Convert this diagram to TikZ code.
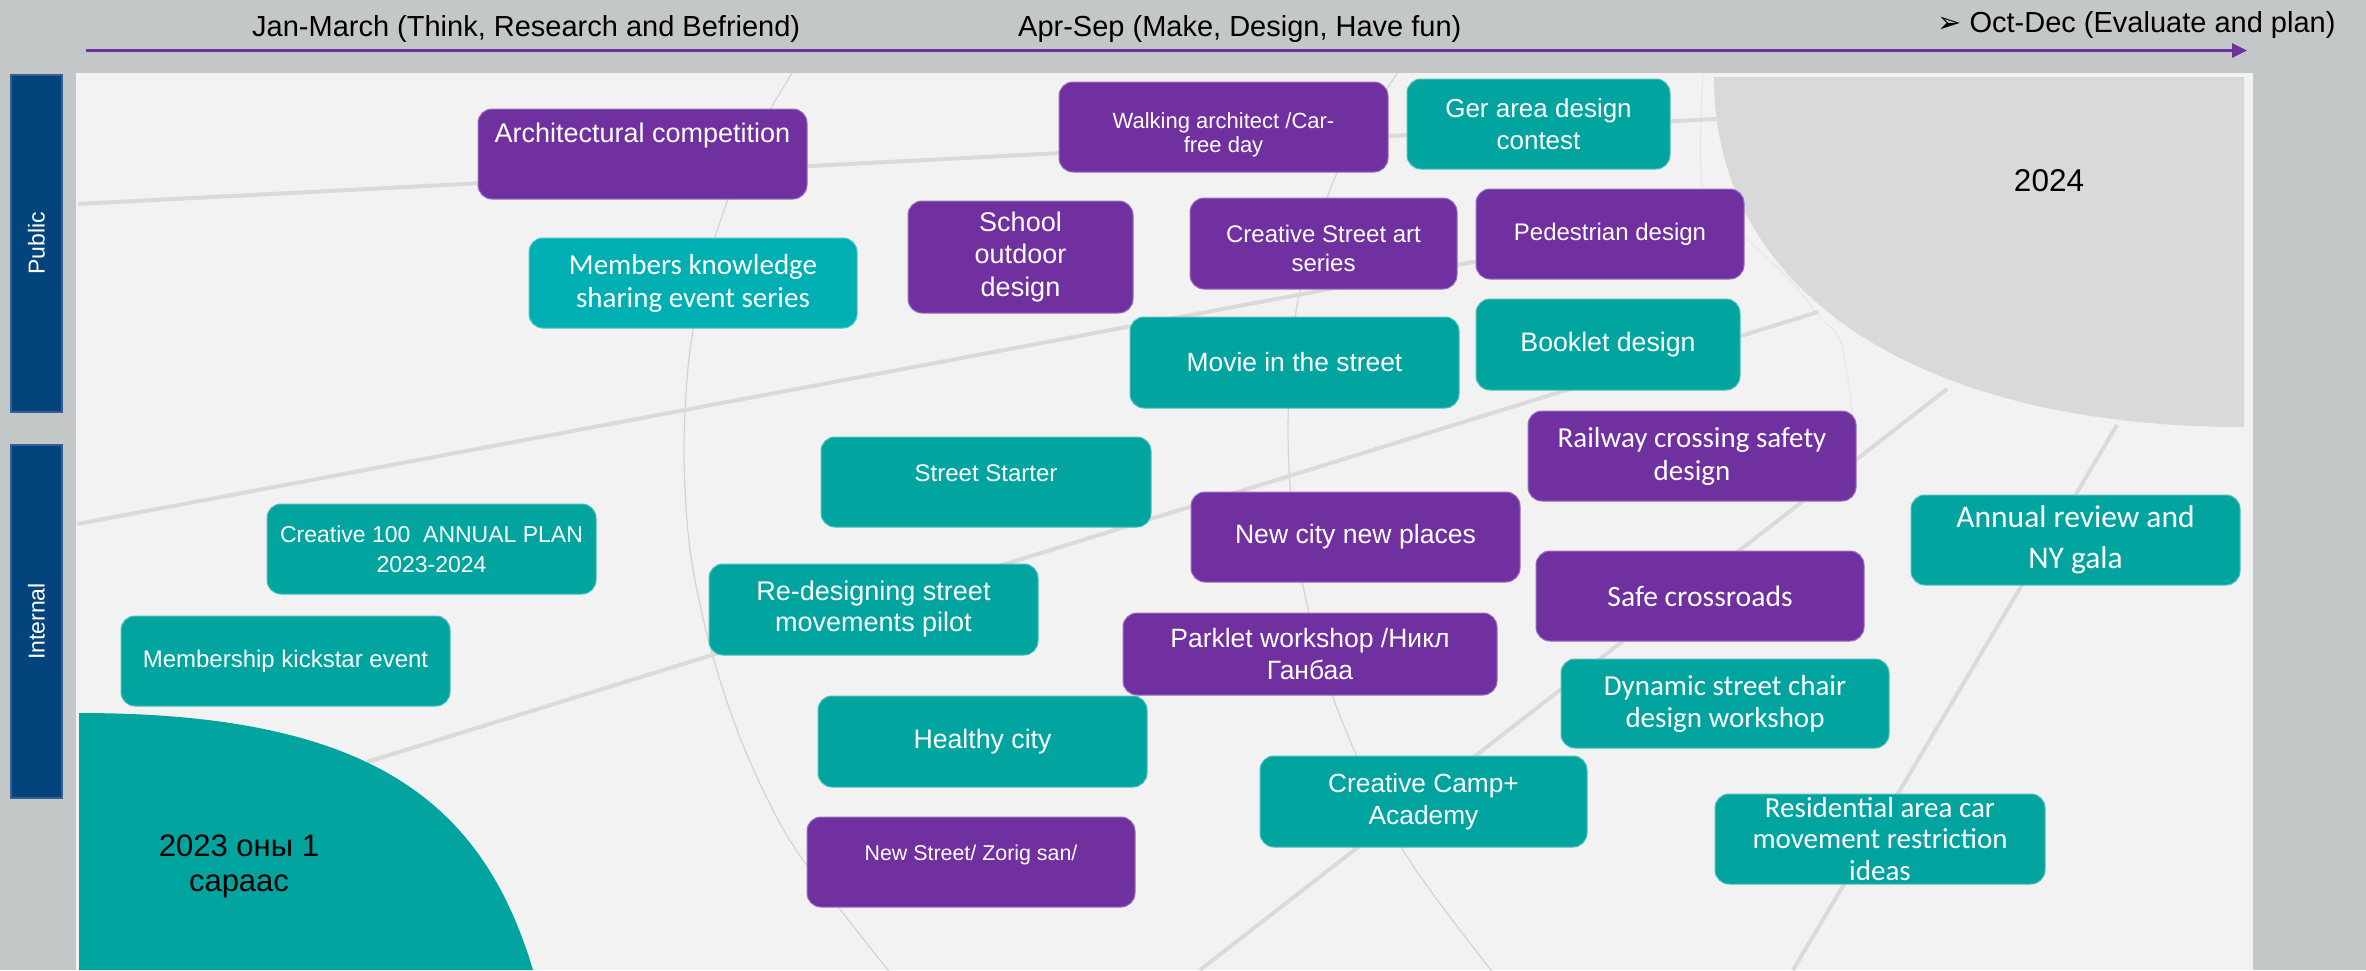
\documentclass[tikz,border=0pt]{standalone}
\usepackage{fontspec}
\setmainfont{Liberation Sans}
\newfontfamily\calfont{Carlito}
\newfontfamily\symfont{DejaVu Sans}
\usetikzlibrary{arrows.meta}

\definecolor{slidegray}{HTML}{C4C7C8}
\definecolor{canvasgray}{HTML}{F2F2F2}
\definecolor{roadgray}{HTML}{DADADA}
\definecolor{ringgray}{HTML}{D3D3D3}
\definecolor{yeargray}{HTML}{D9D9D9}
\definecolor{planpurple}{HTML}{7030A0}
\definecolor{planteal}{HTML}{02A4A0}
\definecolor{planaqua}{HTML}{00AFB1}
\definecolor{laneblue}{HTML}{03447C}
\definecolor{laneedge}{HTML}{3A5D96}

\tikzset{
  plan/.style={rounded corners=14pt, inner sep=0pt, align=center, text=white,
    minimum width=329pt, minimum height=90pt, line width=1pt},
  pplan/.style={plan, fill=planpurple, draw=planpurple!70!white},
  tplan/.style={plan, fill=planteal, draw=planteal!70!white},
  gro/.style 2 args={font=\fontsize{#1}{#2}\selectfont},
  cal/.style 2 args={font=\calfont\fontsize{#1}{#2}\selectfont},
  stage/.style={font=\fontsize{29}{34}\selectfont, anchor=base west, inner sep=0pt},
  lane/.style={fill=laneblue, draw=laneedge, line width=1.5pt, rotate=90,
    minimum height=51pt, inner sep=0pt, text=white, font=\fontsize{23}{27}\selectfont},
  road/.style={draw=roadgray, line width=4pt},
  ring/.style={draw=ringgray, line width=1.2pt},
}

\begin{document}
\begin{tikzpicture}[x=1pt, y=-1pt]
\useasboundingbox (0,0) rectangle (2366,970);
\fill[slidegray] (0,0) rectangle (2366,970);
\fill[canvasgray] (76,73) rectangle (2253,970);

% time line
\node[stage] (q1) at (252,36) {Jan-March (Think, Research and Befriend)};
\node[stage] (q2) at (1018,36) {Apr-Sep (Make, Design, Have fun)};
\node[stage] (q3) at (1937,32) {{\symfont ➢}\ Oct-Dec (Evaluate and plan)};
\coordinate (tstart) at (86,50.5);
\coordinate (tend) at (2247,50.5);
\draw[planpurple, line width=3pt, -{Triangle[length=15pt, width=14pt]}] (tstart) -- (tend);

% lanes
\node[lane, minimum width=337pt] (public) at (36.5,243.5) {Public};
\node[lane, minimum width=353pt] (internal) at (36.5,621.5) {Internal};

% background map
\begin{scope}
\clip (76,73) rectangle (2253,970);
\draw[ring] plot[smooth] coordinates {(800,60) (748,150) (711,250) (690,350) (684,450) (690,550) (711,650) (745,750) (796,850) (896,980)};
\draw[ring] plot[smooth] coordinates {(1406,60) (1337,173) (1298,300) (1288,430) (1298,560) (1334,700) (1403,850) (1499,980)};
\draw[ring, line width=1pt, draw=ringgray!40!canvasgray] plot[smooth] coordinates {(1703,73) (1703,190) (1745,237) (1790,280) (1820,317) (1840,340) (1850,393) (1852,420)};
\draw[road] (78,204) -- (1716,119);
\draw[road] (77,524) -- (1745,211);
\draw[road] (367,762) -- (1818,312);
\draw[road] (1200,970) -- (1947,389);
\draw[road] (1793,970) -- (2117,425);
\fill[planteal] (79,713) .. controls (369,713) and (482,800) .. (533,970) -- (79,970) -- cycle;
\fill[yeargray] (2244,77) -- (1714,77) .. controls (1714,297) and (1924,427) .. (2244,427) -- cycle;
\end{scope}
\node[font=\fontsize{31}{35}\selectfont, align=center] (y2023) at (239,866) {2023 оны 1\\сараас};
\node[font=\fontsize{31.5}{36}\selectfont] (y2024) at (2049,181) {2024};

% public
\node[pplan] (arch) at (642.5,154) {};
\node[gro={27}{32}, text=white] (archtext) at (642.5,136) {Architectural competition};
\node[pplan] (walk) at (1223.5,127) {};
\node[gro={22}{24}, text=white, align=center] (walktext) at (1223.5,135) {Walking architect /Car-\\free day};
\node[tplan, minimum width=263pt, gro={26}{32}] (ger) at (1538.5,124) {Ger area design\\contest};
\node[pplan, minimum width=225pt, minimum height=112pt, gro={27}{32.5}] (school) at (1020.5,257) {School\\outdoor\\design};
\node[pplan, minimum width=267pt, minimum height=91pt] (streetart) at (1323.5,243.5) {};
\node[gro={24}{29}, text=white, align=center] (streetarttext) at (1323.5,248) {Creative Street art\\series};
\node[pplan, minimum width=268pt, gro={24}{29}] (pedestrian) at (1610,234) {Pedestrian design};
\node[tplan, fill=planaqua, draw=planaqua!70!white, minimum width=328pt, cal={29}{33}] (members) at (693,283) {Members knowledge\\sharing event series};
\node[tplan, minimum height=91pt, gro={26.4}{31}] (movie) at (1294.5,362.5) {Movie in the street};
\node[tplan, minimum width=264pt, minimum height=91pt, gro={26.7}{31}] (booklet) at (1608,344.5) {Booklet design};

% internal
\node[pplan, minimum width=328pt, cal={29}{33}] (railway) at (1692,456) {Railway crossing safety\\design};
\node[tplan, minimum width=330pt] (starter) at (986,482) {};
\node[gro={24}{29}, text=white] (startertext) at (986,473) {Street Starter};
\node[pplan, gro={26.6}{31}] (newcity) at (1355.5,537) {New city new places};
\node[tplan, gro={23}{30}] (annualplan) at (431.5,549) {Creative 100\ \ ANNUAL PLAN\\2023-2024};
\node[tplan, minimum height=91pt, gro={27}{31}] (redesign) at (873.5,609.5) {Re-designing street\\movements pilot};
\node[pplan, minimum width=328pt, cal={29.6}{34}] (safe) at (1700,596) {Safe crossroads};
\node[tplan, cal={31.5}{41}] (review) at (2075.5,540) {Annual review and\\NY gala};
\node[pplan, minimum width=374pt, minimum height=82pt, gro={26.5}{32}] (parklet) at (1310,654) {Parklet workshop /Никл\\Ганбаа};
\node[tplan, gro={24}{29}] (kickstart) at (285.5,661) {Membership kickstar event};
\node[tplan, minimum width=328pt, minimum height=89pt, cal={29}{32}] (chair) at (1725,703.5) {Dynamic street chair\\design workshop};
\node[tplan, minimum height=91pt, gro={26.7}{31}] (healthy) at (982.5,741.5) {Healthy city};
\node[tplan, minimum width=327pt, minimum height=91pt, gro={26.3}{32}] (camp) at (1423.5,801.5) {Creative Camp+\\Academy};
\node[tplan, minimum width=330pt, cal={29}{31.5}] (residential) at (1880,839) {Residential area car\\movement restriction\\ideas};
\node[pplan, minimum width=328pt] (newstreet) at (971,862) {};
\node[gro={21.4}{26}, text=white] (newstreettext) at (971,855) {New Street/ Zorig san/};
\end{tikzpicture}
\end{document}
